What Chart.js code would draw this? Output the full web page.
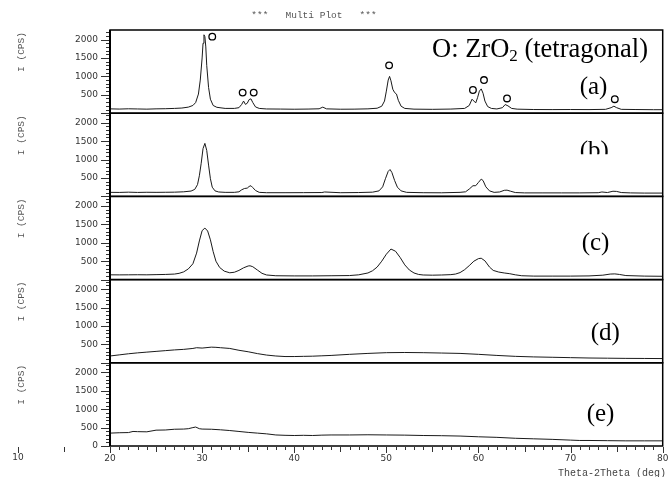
<!DOCTYPE html>
<html>
<head>
<meta charset="utf-8">
<script src="https://cdn.jsdelivr.net/npm/chart.js@4.4.1/dist/chart.umd.min.js"></script>
<style>
  body { margin: 0; background: #fff; }
  canvas { display: block; }
</style>
</head>
<body>
<canvas id="xrd" width="668" height="477"></canvas>
<script>
// 2theta (deg) / intensity (CPS)
const aTheta = [20, 21, 22, 23, 24, 25, 26, 27, 27.8, 28.5, 29.0, 29.3, 29.6, 29.8, 30.0, 30.1, 30.2, 30.3, 30.4, 30.5, 30.7, 30.9, 31.2, 31.6, 32.5, 33.5, 34.0, 34.3, 34.5, 34.7, 34.9, 35.1, 35.3, 35.5, 35.8, 36.2, 37, 38.5, 40, 41.5, 42.7, 43.1, 43.5, 45, 46.5, 48, 49.0, 49.5, 49.8, 50.0, 50.2, 50.35, 50.5, 50.7, 50.9, 51.1, 51.3, 51.6, 52.0, 53, 55, 57, 58.5, 59.0, 59.3, 59.5, 59.7, 59.9, 60.1, 60.3, 60.5, 60.7, 61.0, 61.4, 62.0, 62.6, 62.9, 63.2, 63.6, 64.2, 66, 68, 70, 72, 73.8, 74.4, 74.7, 75.0, 75.5, 77, 79, 80];
const aCps = [118, 112, 120, 115, 110, 118, 122, 130, 140, 165, 210, 290, 520, 900, 1500, 1900, 2130, 2080, 1800, 1300, 700, 380, 210, 160, 130, 130, 150, 240, 330, 240, 270, 370, 390, 290, 170, 130, 115, 112, 108, 112, 120, 165, 118, 108, 110, 118, 135, 190, 330, 600, 900, 1000, 880, 650, 560, 520, 350, 190, 130, 110, 105, 112, 130, 210, 380, 330, 280, 420, 600, 660, 540, 330, 180, 130, 115, 150, 235, 200, 130, 110, 100, 98, 100, 98, 105, 150, 190, 150, 105, 100, 95, 95];

const bTheta = [20, 21, 22, 23, 24, 25, 26, 27, 28, 28.8, 29.2, 29.5, 29.7, 29.9, 30.1, 30.3, 30.5, 30.7, 30.9, 31.1, 31.4, 31.8, 32.5, 33.5, 34.0, 34.3, 34.6, 34.9, 35.1, 35.3, 35.5, 35.8, 36.2, 37, 39, 41, 43, 43.3, 45, 47, 48.5, 49.2, 49.6, 49.9, 50.2, 50.4, 50.6, 50.9, 51.2, 51.6, 52.2, 54, 56, 58, 58.6, 59.0, 59.4, 59.7, 60.0, 60.3, 60.5, 60.8, 61.2, 61.7, 62.3, 62.8, 63.1, 63.5, 64.0, 65, 67, 69, 71, 73, 73.4, 74, 74.6, 75.0, 75.5, 76.5, 78, 80];
const bCps = [110, 108, 115, 108, 112, 110, 112, 115, 125, 145, 190, 320, 560, 900, 1300, 1440, 1250, 850, 480, 250, 150, 120, 110, 110, 125, 180, 215, 225, 270, 290, 240, 160, 110, 100, 100, 102, 105, 120, 100, 105, 115, 150, 260, 480, 680, 730, 650, 430, 250, 150, 110, 100, 98, 110, 125, 200, 290, 290, 380, 470, 430, 260, 150, 110, 120, 165, 170, 140, 105, 95, 95, 95, 95, 100, 120, 105, 140, 135, 105, 95, 90, 90];

const cTheta = [20, 21, 22, 23, 24, 25, 26, 27, 27.5, 28, 28.5, 29, 29.4, 29.7, 30.0, 30.3, 30.6, 30.9, 31.2, 31.5, 31.9, 32.4, 33.0, 33.5, 34.0, 34.5, 35.0, 35.2, 35.5, 36.0, 36.5, 37.0, 38, 40, 42, 44, 46, 47, 48, 48.5, 49, 49.5, 50, 50.5, 51, 51.5, 52, 52.5, 53, 53.5, 54, 55, 56, 57, 57.5, 58, 58.5, 59, 59.5, 60, 60.3, 60.7, 61.2, 61.6, 62.2, 62.8, 63.4, 64, 64.7, 66, 68, 70, 72, 73.5, 74.3, 74.8, 75.3, 76, 78, 80];
const cCps = [130, 128, 130, 132, 130, 135, 140, 150, 170, 210, 290, 430, 720, 1050, 1330, 1400, 1320, 1080, 760, 500, 330, 230, 185, 200, 250, 320, 370, 375, 350, 260, 170, 125, 105, 100, 100, 105, 110, 130, 180, 240, 340, 500, 690, 830, 770, 600, 400, 260, 180, 140, 125, 120, 125, 135, 150, 190, 270, 380, 500, 570, 580, 510, 340, 250, 205, 180, 160, 130, 105, 95, 95, 95, 100, 120, 150, 155, 140, 110, 95, 90];

const dTheta = [20, 21, 22, 23, 24, 25, 26, 27, 28, 29, 29.4, 30, 31, 31.5, 32, 33, 34, 35, 36, 37, 38, 39, 40, 41, 42, 43, 44, 46, 48, 50, 52, 54, 56, 58, 60, 62, 64, 66, 68, 70, 72, 74, 76, 78, 80];
const dCps = [185, 215, 245, 270, 290, 310, 330, 350, 365, 390, 410, 400, 425, 420, 410, 390, 340, 300, 250, 210, 185, 170, 170, 175, 180, 190, 200, 230, 255, 275, 280, 275, 265, 255, 230, 200, 175, 160, 150, 140, 130, 125, 120, 118, 115];

const eTheta = [20, 21, 22, 22.5, 23, 24, 25, 26, 27, 28, 28.5, 29, 29.3, 29.7, 30, 31, 32, 33, 34, 35, 36, 37, 38, 39, 40, 41, 42, 43, 44, 46, 48, 50, 52, 54, 56, 58, 60, 62, 64, 66, 68, 70, 71, 72, 74, 76, 78, 80];
const eCps = [350, 360, 365, 395, 390, 385, 430, 435, 455, 460, 470, 500, 515, 470, 460, 455, 440, 420, 395, 370, 350, 330, 300, 290, 285, 290, 285, 295, 300, 300, 305, 300, 295, 285, 280, 270, 250, 235, 210, 195, 180, 160, 150, 150, 145, 140, 140, 140];

// tetragonal ZrO2 markers in scan (a)
const markTheta = [31.1, 34.4, 35.6, 50.3, 59.4, 60.6, 63.1, 74.8];
const markCps = [2080, 560, 560, 1300, 630, 900, 400, 380];

const panelLabels = ['(a)', '(b)', '(c)', '(d)', '(e)'];
const yTickValues = [500, 1000, 1500, 2000];
const xTickStep = 10;

const thetas = [aTheta, bTheta, cTheta, dTheta, eTheta];
const counts = [aCps, bCps, cCps, dCps, eCps];
const axisIds = ['ya', 'yb', 'yc', 'yd', 'ye'];

// label placement relative to each panel (right edge, top edge)
const tagDx = [83, 83, 81, 72, 76];
const tagDy = [64, 45, 54, 60, 58];

const pairs = (xs, ys) => xs.map((x, i) => ({x: x, y: ys[i]}));

const datasets = counts.map((ys, i) => ({
  data: pairs(thetas[i], ys),
  yAxisID: axisIds[i],
  borderColor: '#1a1a1a',
  borderWidth: 1,
  pointRadius: 0,
  tension: 0
}));
datasets.push({
  data: pairs(markTheta, markCps),
  yAxisID: 'ya',
  showLine: false,
  pointStyle: 'circle',
  pointRadius: 3.3,
  pointBorderWidth: 1.3,
  pointBorderColor: '#000',
  pointBackgroundColor: '#fff'
});

const scales = {
  x: {
    type: 'linear',
    min: 20,
    max: 80,
    grid: {display: false, drawTicks: false},
    border: {display: false},
    ticks: {stepSize: xTickStep, padding: 7, color: '#333', font: {family: 'DejaVu Sans', size: 9}, maxRotation: 0},
    afterFit: s => { s.height = 31; s.paddingLeft = 0; s.paddingRight = 0; }
  }
};
// stacked axes are laid out bottom-up, so define (e) first
axisIds.slice().reverse().forEach(id => {
  const last = id === 'ye';
  scales[id] = {
    type: 'linear',
    position: 'left',
    stack: 'scans',
    stackWeight: 1,
    min: 0,
    max: 2260,
    grid: {display: false, drawTicks: false},
    border: {display: false},
    ticks: {padding: 12, autoSkip: false, color: '#333', font: {family: 'DejaVu Sans', size: 9}, callback: v => String(v)},
    afterBuildTicks: s => {
      const vals = last ? [0].concat(yTickValues) : yTickValues;
      s.ticks = vals.map(v => ({value: v}));
    },
    afterFit: s => { s.width = 110; s.paddingTop = 0; s.paddingBottom = 0; }
  };
});

const decor = {
  id: 'decor',
  afterDraw(chart) {
    const ctx = chart.ctx;
    const area = chart.chartArea;
    const xs = chart.scales.x;
    ctx.save();

    // title
    ctx.fillStyle = '#555';
    ctx.font = '9.5px "Liberation Mono"';
    ctx.textAlign = 'center';
    ctx.textBaseline = 'middle';
    ctx.fillText('***   Multi Plot   ***', 314, 15);

    axisIds.forEach((id, i) => {
      const ys = chart.scales[id];
      // frame
      ctx.strokeStyle = '#000';
      ctx.lineWidth = 1.5;
      ctx.strokeRect(area.left, ys.top, area.right - area.left, ys.bottom - ys.top);
      // y ticks, major + minor
      ctx.lineWidth = 1;
      ctx.strokeStyle = '#333';
      ctx.beginPath();
      for (let v = 0; v <= 2200; v += 100) {
        const py = Math.round(ys.getPixelForValue(v)) + 0.5;
        const len = v % 500 === 0 ? 9 : 4;
        ctx.moveTo(area.left - len, py);
        ctx.lineTo(area.left, py);
      }
      ctx.stroke();
      // axis title
      ctx.save();
      ctx.translate(21, ys.top + 22);
      ctx.rotate(-Math.PI / 2);
      ctx.fillStyle = '#555';
      ctx.font = '9.5px "Liberation Mono"';
      ctx.textAlign = 'center';
      ctx.textBaseline = 'middle';
      ctx.fillText('I (CPS)', 0, 0);
      ctx.restore();
      // panel tag ((b) is cut off in the original print)
      ctx.save();
      if (i === 1) {
        ctx.beginPath();
        ctx.rect(area.left, ys.top, area.right - area.left, 41);
        ctx.clip();
      }
      ctx.fillStyle = '#000';
      ctx.font = '25px "Liberation Serif"';
      ctx.textAlign = 'left';
      ctx.textBaseline = 'alphabetic';
      ctx.fillText(panelLabels[i], area.right - tagDx[i], ys.top + tagDy[i]);
      ctx.restore();
    });

    // left axis line
    ctx.strokeStyle = '#000';
    ctx.lineWidth = 2;
    ctx.beginPath();
    ctx.moveTo(area.left, area.top);
    ctx.lineTo(area.left, area.bottom);
    ctx.stroke();

    // x ticks (incl. the two left of the frame)
    ctx.lineWidth = 1;
    ctx.strokeStyle = '#333';
    ctx.beginPath();
    for (let d = 10; d <= 80; d += 1) {
      if (d < 20 && d % 5 !== 0) continue;
      const px = Math.round(xs.getPixelForValue(d)) + 0.5;
      const len = d % 10 === 0 ? 6 : (d % 5 === 0 ? 5 : 3);
      ctx.moveTo(px, area.bottom + 1);
      ctx.lineTo(px, area.bottom + 1 + len);
    }
    ctx.stroke();
    ctx.fillStyle = '#333';
    ctx.font = '9px "DejaVu Sans"';
    ctx.textAlign = 'center';
    ctx.textBaseline = 'top';
    ctx.fillText('10', xs.getPixelForValue(10), area.bottom + 7);

    ctx.fillStyle = '#444';
    ctx.font = '10px "Liberation Mono"';
    ctx.textAlign = 'left';
    ctx.textBaseline = 'middle';
    ctx.fillText('Theta-2Theta (deg)', 558, 473);

    // legend note in panel (a)
    const ya = chart.scales.ya;
    const base = ya.top + 27;
    let tx = 432;
    ctx.fillStyle = '#000';
    ctx.textBaseline = 'alphabetic';
    ctx.font = '26.5px "Liberation Serif"';
    ctx.fillText('O: ZrO', tx, base);
    tx += ctx.measureText('O: ZrO').width;
    ctx.font = '17px "Liberation Serif"';
    ctx.fillText('2', tx, base + 4);
    tx += ctx.measureText('2').width;
    ctx.font = '26.5px "Liberation Serif"';
    ctx.fillText(' (tetragonal)', tx, base);

    ctx.restore();
  }
};

new Chart(document.getElementById('xrd'), {
  type: 'line',
  data: {datasets: datasets},
  options: {
    responsive: false,
    animation: false,
    devicePixelRatio: 1,
    layout: {padding: {top: 30, left: 0, right: 3, bottom: 0}},
    plugins: {legend: {display: false}, tooltip: {enabled: false}, title: {display: false}},
    scales: scales
  },
  plugins: [decor]
});
</script>
</body>
</html>
